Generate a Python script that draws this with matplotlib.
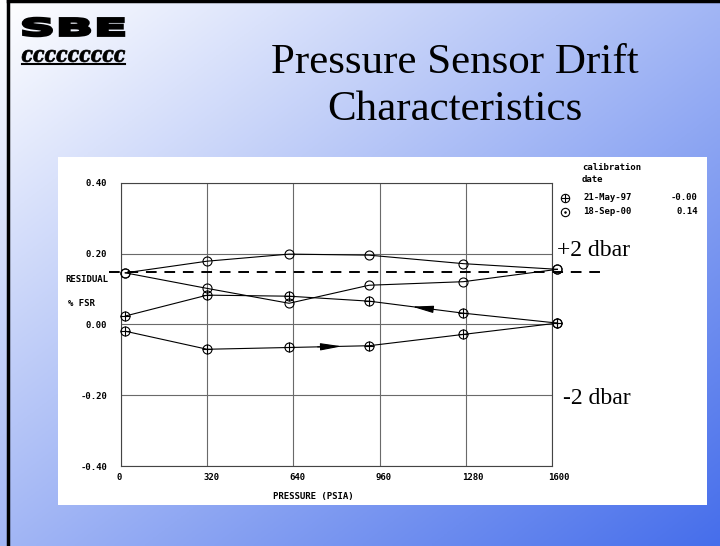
import numpy as np
import matplotlib
matplotlib.use('Agg')
import matplotlib.pyplot as plt
from matplotlib.textpath import TextPath
from matplotlib.patches import PathPatch, Rectangle
from matplotlib.font_manager import FontProperties
from matplotlib.transforms import Affine2D, ScaledTranslation

# values
pressure = [16, 320, 624, 921, 1271, 1620]
may97_up = [-0.019, -0.070, -0.065, -0.060, -0.028, 0.004]
may97_down = [0.024, 0.083, 0.080, 0.066, 0.032, 0.004]
sep00_up = [0.146, 0.179, 0.199, 0.196, 0.172, 0.156]
sep00_down = [0.146, 0.102, 0.060, 0.111, 0.121, 0.156]
zero_line = 0.147

x_ticks = [0, 320, 640, 960, 1280, 1600]
y_ticks = [-0.40, -0.20, 0.00, 0.20, 0.40]
legend_dates = ['21-May-97', '18-Sep-00']
legend_offsets = ['-0.00', '0.14']

W, H = 720, 546
mono = dict(family='DejaVu Sans Mono', fontsize=6.5, weight='bold')
serif = 'Liberation Serif'

fig = plt.figure(figsize=(7.2, 5.46), dpi=100)

# slide background (pixel coords, y down)
bg = fig.add_axes([0, 0, 1, 1])
bg.set_xlim(0, W)
bg.set_ylim(H, 0)
bg.axis('off')
xx, yy = np.meshgrid(np.linspace(0, 1, 240), np.linspace(0, 1, 180))
t = 0.5 * xx + 0.5 * yy
c0 = np.array([1.0, 1.0, 1.0])
c1 = np.array([70, 110, 235]) / 255
bg.imshow(c0 + (c1 - c0) * t[..., None], extent=(0, W, H, 0), aspect='auto', zorder=0)
bg.plot([8, 8], [0, H], color='k', lw=2.5, zorder=1)
bg.plot([8, W], [1, 1], color='k', lw=2.5, zorder=1)
bg.add_patch(Rectangle((58, 157), 649, 348, fc='white', ec='none', zorder=1))


def fit_text(s, box, prop, lw=0.5):
    # squeeze a text path into a pixel box (x0, x1, top, bottom)
    p = TextPath((0, 0), s, size=1, prop=prop)
    e = p.get_extents()
    sx = (box[1] - box[0]) / e.width
    sy = (box[3] - box[2]) / e.height
    tr = Affine2D().translate(-e.x0, -e.y0).scale(sx, -sy).translate(box[0], box[3])
    bg.add_patch(PathPatch(tr.transform_path(p), fc='k', ec='k', lw=lw, zorder=2))


fit_text('SBE', (23, 124, 18, 36), FontProperties(family='DejaVu Sans', weight='bold'), lw=1.8)
fit_text('ccccccccc', (22, 125, 50, 62), FontProperties(family='DejaVu Serif', weight='bold', style='italic'))
bg.plot([22, 125], [63.5, 63.5], color='k', lw=1.5, zorder=2)

bg.text(455, 63, 'Pressure Sensor Drift', ha='center', va='center', family=serif, fontsize=31, zorder=3)
bg.text(455, 110, 'Characteristics', ha='center', va='center', family=serif, fontsize=31, zorder=3)

bg.text(557, 251, '+2 dbar', va='center', family=serif, fontsize=17, zorder=3)
bg.text(563, 399, '-2 dbar', va='center', family=serif, fontsize=17, zorder=3)

bg.text(313, 497, 'PRESSURE (PSIA)', ha='center', va='center', zorder=3, **mono)
bg.text(65, 279, 'RESIDUAL', ha='left', va='center', zorder=3, **mono)
bg.text(68, 303, '% FSR', ha='left', va='center', zorder=3, **mono)

# legend block
bg.text(582, 167, 'calibration', va='center', zorder=3, **mono)
bg.text(582, 180, 'date', va='center', zorder=3, **mono)
for i, (d, off) in enumerate(zip(legend_dates, legend_offsets)):
    yl = 198 + 14 * i
    bg.plot(565, yl, marker='o', ms=6, mfc='none', mec='k', mew=0.8, zorder=3)
    bg.plot(565, yl, marker='+' if i == 0 else '.', ms=6 if i == 0 else 2, color='k', mew=0.8, zorder=3)
    bg.text(583, yl, d, va='center', zorder=3, **mono)
    bg.text(698, yl, off, va='center', ha='right', zorder=3, **mono)

# the plot itself
ax = fig.add_axes([121 / W, 1 - 466 / H, (552 - 121) / W, (466 - 183) / H])
ax.patch.set_alpha(0)
ax.set_xlim(0, 1600)
ax.set_ylim(-0.4, 0.4)
ax.set_xticks(x_ticks)
ax.set_yticks(y_ticks)
ax.set_xticklabels([str(v) for v in x_ticks])
ax.set_yticklabels(['%.2f' % v for v in y_ticks])
ax.grid(color='#6a6a6a', lw=0.8)
ax.tick_params(length=0, labelsize=6.5)
ax.tick_params(axis='x', pad=5)
ax.tick_params(axis='y', pad=10)
for lab in ax.get_xticklabels() + ax.get_yticklabels():
    lab.set_family('DejaVu Sans Mono')
    lab.set_weight('bold')
for lab in ax.get_xticklabels():
    lab.set_ha('left')
    lab.set_transform(lab.get_transform() + ScaledTranslation(-3 / 72, 0, fig.dpi_scale_trans))
for s in ax.spines.values():
    s.set_color('#444444')
    s.set_linewidth(0.8)

ax.plot([-45, 1778], [zero_line, zero_line], color='k', lw=1.4, dashes=(5.5, 4), clip_on=False, zorder=3)

for ys, plus in [(may97_up, True), (may97_down, True), (sep00_up, False), (sep00_down, False)]:
    ax.plot(pressure, ys, color='k', lw=0.8, marker='o', ms=6.5, mfc='none', mec='k', mew=0.8,
            clip_on=False, zorder=4)
    if plus:
        ax.plot(pressure, ys, ls='none', marker='+', ms=6.5, color='k', mew=0.8, clip_on=False, zorder=4)

# direction arrows
arrow = dict(arrowstyle='-|>,head_length=1.3,head_width=0.22', color='k', lw=0.8, shrinkA=0, shrinkB=0)
ax.annotate('', xy=(1080, np.interp(1080, pressure, may97_down)),
            xytext=(1160, np.interp(1160, pressure, may97_down)), arrowprops=arrow, zorder=5)
ax.annotate('', xy=(820, np.interp(820, pressure, may97_up)),
            xytext=(730, np.interp(730, pressure, may97_up)), arrowprops=arrow, zorder=5)

fig.savefig('out.png', dpi=100)
